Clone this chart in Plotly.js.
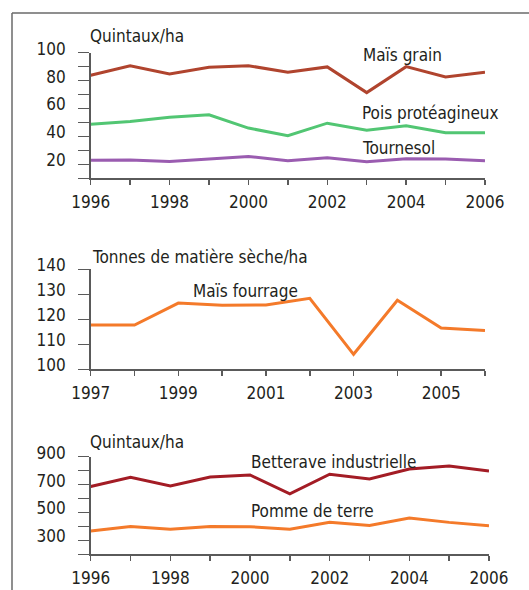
<!DOCTYPE html>
<html>
<head>
<meta charset="utf-8">
<script src="https://cdn.plot.ly/plotly-3.0.1.min.js"></script>
<style>html,body{margin:0;padding:0;background:#fff;}#chart{width:529px;height:590px;}</style>
</head>
<body>
<div id="chart"></div>
<script>
// ---- Data ----
const years1 = [1996,1997,1998,1999,2000,2001,2002,2003,2004,2005,2006];
const maisGrain = [83.8,90.7,84.8,89.5,90.7,86.0,89.8,71.4,90.0,82.6,86.0];
const poisProteagineux = [48.8,50.7,53.8,55.5,46.0,40.5,49.5,44.5,47.6,42.6,42.6];
const tournesol = [22.9,23.1,22.1,23.8,25.7,22.6,24.8,21.9,24.0,23.8,22.6];

const years2 = [1997,1998,1999,2000,2001,2002,2003,2004,2005,2006];
const maisFourrage = [117.7,117.7,126.5,125.6,125.7,128.4,106.0,127.6,116.5,115.5];

const years3 = [1996,1997,1998,1999,2000,2001,2002,2003,2004,2005,2006];
const betterave = [686,752,690,755,769,633,774,740,812,833,798];
const pommeDeTerre = [367,400,379,400,398,379,429,407,460,429,405];

const xTicks1 = ["1996","","1998","","2000","","2002","","2004","","2006"];
const xTicks2 = ["1997","","1999","","2001","","2003","","2005",""];
const xTicks3 = ["1996","","1998","","2000","","2002","","2004","","2006"];
const yVals1 = [10,20,30,40,50,60,70,80,90,100];
const yText1 = ["","20","","40","","60","","80","","100"];
const yVals2 = [100,110,120,130,140];
const yText2 = ["100","110","120","130","140"];
const yVals3 = [200,300,400,500,600,700,800,900];
const yText3 = ["","300","","500","","700","","900"];

const unit1 = "Quintaux/ha";
const unit2 = "Tonnes de matière sèche/ha";
const unit3 = "Quintaux/ha";

// ---- Layout helpers ----
const W = 529, H = 590;
const px = x => x / W;
const py = y => 1 - y / H;
const FONT = "DejaVu Sans Condensed, sans-serif";
const FS = 17;
const TXT = "#231f20";
const AX = "#5a5a5a";

function xAxis(domain, range, vals, text, anchor) {
  return {
    domain: domain, range: range, anchor: anchor,
    tickmode: "array", tickvals: vals, ticktext: text,
    showline: true, linecolor: AX, linewidth: 1.5,
    ticks: "outside", ticklen: 5, tickwidth: 1.5, tickcolor: AX,
    showgrid: false, zeroline: false, fixedrange: true,
    tickfont: {family: FONT, size: FS, color: TXT},
    ticklabelstandoff: 3
  };
}
function yAxis(domain, range, vals, text, anchor) {
  return {
    domain: domain, range: range, anchor: anchor,
    tickmode: "array", tickvals: vals, ticktext: text,
    showline: true, linecolor: AX, linewidth: 1.5,
    ticks: "outside", ticklen: 11, tickwidth: 1.5, tickcolor: AX,
    showgrid: false, zeroline: false, fixedrange: true,
    tickfont: {family: FONT, size: FS, color: TXT},
    ticklabelstandoff: 9,
    ticklabelshift: -4
  };
}

function line(x, y, color, xa, ya, name) {
  return {x: x, y: y, type: "scatter", mode: "lines", name: name,
    line: {color: color, width: 3}, xaxis: xa, yaxis: ya,
    hoverinfo: "skip", showlegend: false};
}

const data = [
  line(years1, maisGrain, "#b0442e", "x", "y", "Maïs grain"),
  line(years1, poisProteagineux, "#52c673", "x", "y", "Pois protéagineux"),
  line(years1, tournesol, "#9a5cb0", "x", "y", "Tournesol"),
  line(years2, maisFourrage, "#f47a2a", "x2", "y2", "Maïs fourrage"),
  line(years3, betterave, "#a31c25", "x3", "y3", "Betterave industrielle"),
  line(years3, pommeDeTerre, "#f47a2a", "x3", "y3", "Pomme de terre")
];

function label(text, x, y) {
  return {text: text, xref: "paper", yref: "paper", x: px(x), y: py(y),
    xanchor: "left", yanchor: "middle", showarrow: false,
    font: {family: FONT, size: FS, color: TXT}};
}

const layout = {
  width: W, height: H,
  margin: {l: 0, r: 0, t: 0, b: 0},
  paper_bgcolor: "#fff", plot_bgcolor: "rgba(0,0,0,0)",
  showlegend: false,
  xaxis: xAxis([px(90.7), px(485)], [1996, 2006], years1, xTicks1, "y"),
  yaxis: yAxis([py(178.3), py(52.7)], [10, 100], yVals1, yText1, "x"),
  xaxis2: xAxis([px(90.7), px(485)], [1997, 2006], years2, xTicks2, "y2"),
  yaxis2: yAxis([py(369.3), py(269.3)], [100, 140], yVals2, yText2, "x2"),
  xaxis3: xAxis([px(90.7), px(489)], [1996, 2006], years3, xTicks3, "y3"),
  yaxis3: yAxis([py(554.3), py(456.7)], [200, 900], yVals3, yText3, "x3"),
  annotations: [
    label(unit1, 88, 36),
    label("Maïs grain", 361, 55),
    label("Pois protéagineux", 360, 113),
    label("Tournesol", 360, 148),
    label(unit2, 90, 257),
    label("Maïs fourrage", 191, 291),
    label(unit3, 88, 442),
    label("Betterave industrielle", 249, 462),
    label("Pomme de terre", 249, 511)
  ],
  shapes: [
    {type: "line", xref: "paper", yref: "paper", x0: px(12), x1: 1, y0: py(13), y1: py(13),
     line: {color: "#6a6a6a", width: 1.5}},
    {type: "line", xref: "paper", yref: "paper", x0: px(12), x1: px(12), y0: py(13), y1: 0,
     line: {color: "#6a6a6a", width: 1.5}}
  ]
};

Plotly.newPlot("chart", data, layout, {displayModeBar: false, staticPlot: true});
</script>
</body>
</html>
